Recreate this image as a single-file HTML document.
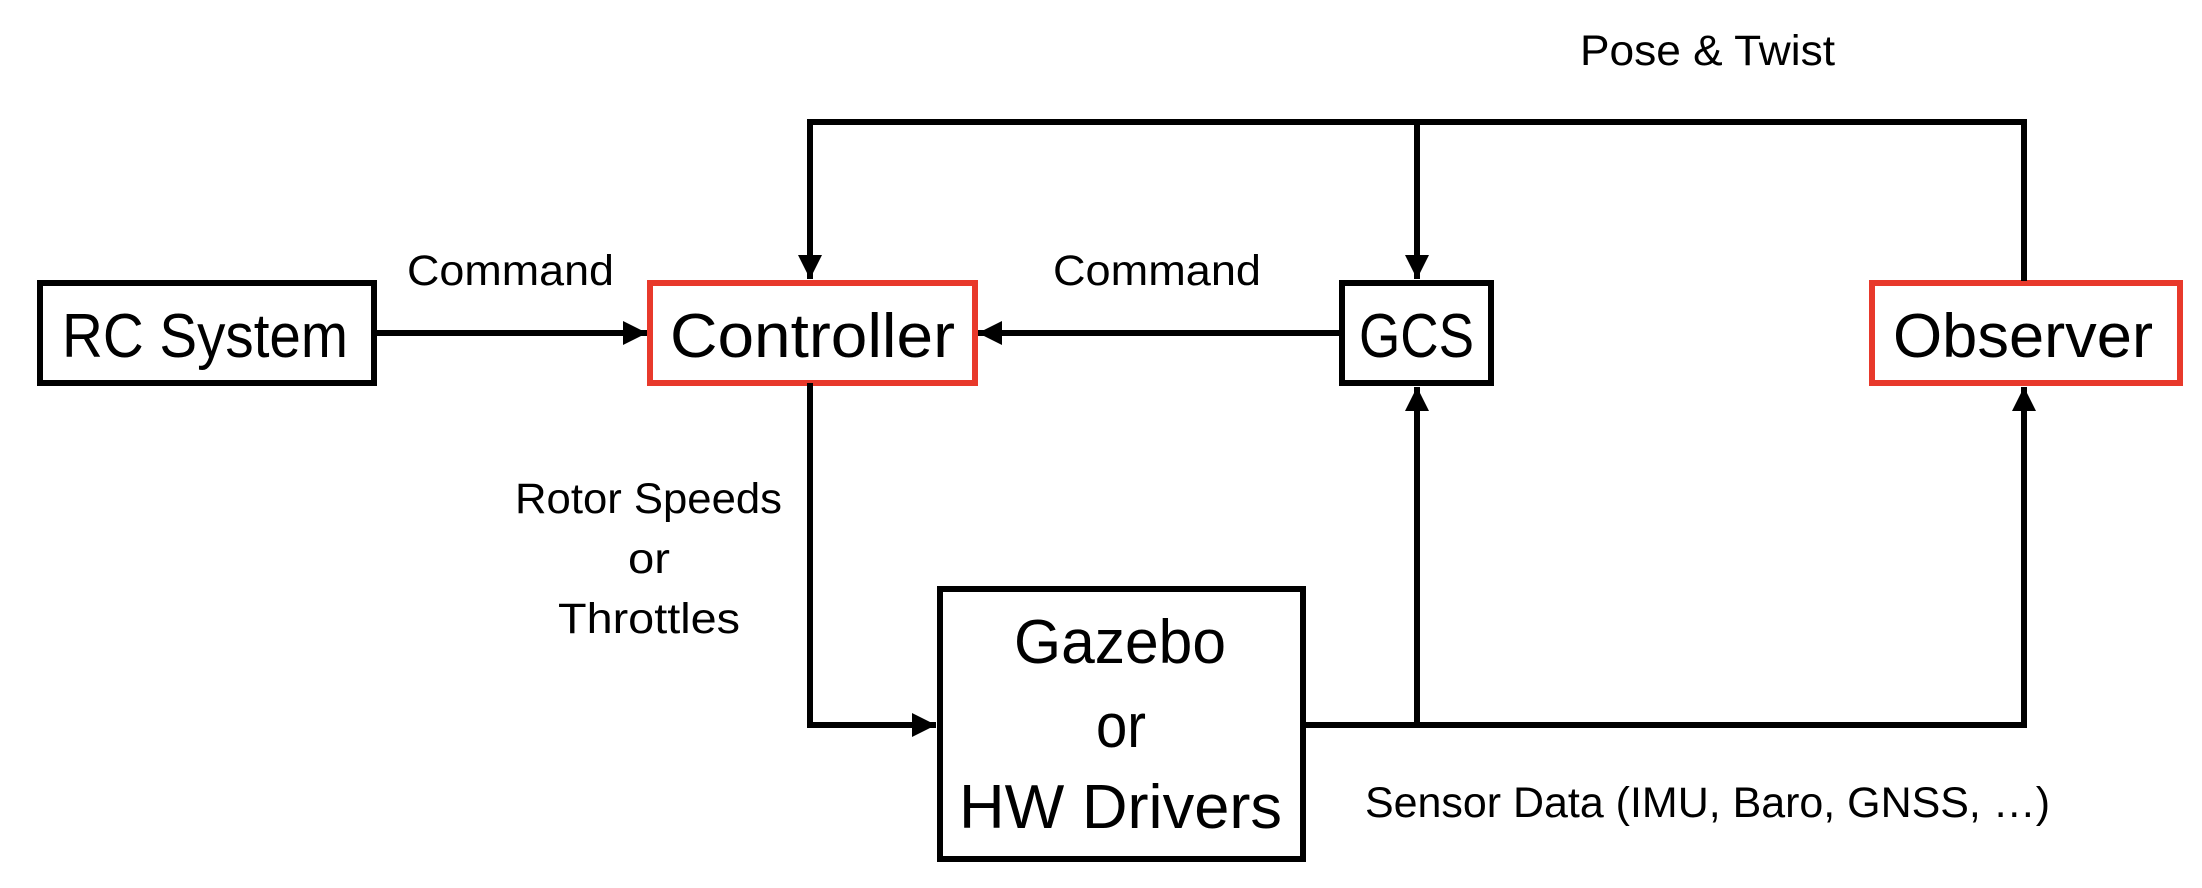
<!DOCTYPE html>
<html><head><style>html,body{margin:0;padding:0;background:#fff;}svg{display:block}</style></head><body>
<svg width="2202" height="888" viewBox="0 0 2202 888" xmlns="http://www.w3.org/2000/svg" font-family="Liberation Sans, sans-serif">
<defs>
<marker id="a" viewBox="0 0 10 10" refX="10" refY="5" markerWidth="4" markerHeight="4" orient="auto" markerUnits="strokeWidth"><path d="M0,0L10,5L0,10z" fill="#000"/></marker>
</defs>
<g fill="none" stroke-width="6">
<rect x="40" y="283" width="334" height="100" stroke="#000"/>
<rect x="650" y="283" width="325" height="100" stroke="#e8392b"/>
<rect x="1342" y="283" width="149" height="100" stroke="#000"/>
<rect x="1872" y="283" width="308" height="100" stroke="#e8392b"/>
<rect x="940" y="589" width="363" height="270" stroke="#000"/>
<g stroke="#000">
<line x1="374" y1="333" x2="647" y2="333" marker-end="url(#a)"/>
<line x1="1341" y1="333" x2="978" y2="333" marker-end="url(#a)"/>
<polyline points="2024,281 2024,122 810,122 810,279" marker-end="url(#a)"/>
<line x1="1417" y1="122" x2="1417" y2="279" marker-end="url(#a)"/>
<polyline points="810,383 810,725 936,725" marker-end="url(#a)"/>
<line x1="1303" y1="725" x2="2027" y2="725"/>
<line x1="1417" y1="725" x2="1417" y2="387" marker-end="url(#a)"/>
<line x1="2024" y1="725" x2="2024" y2="387" marker-end="url(#a)"/>
</g>
</g>
<g fill="#000">
<text x="62" y="357" font-size="62" textLength="286" lengthAdjust="spacingAndGlyphs">RC System</text>
<text x="670" y="357" font-size="62" textLength="285" lengthAdjust="spacingAndGlyphs">Controller</text>
<text x="1359" y="357" font-size="62" textLength="115" lengthAdjust="spacingAndGlyphs">GCS</text>
<text x="1893" y="357" font-size="62" textLength="260" lengthAdjust="spacingAndGlyphs">Observer</text>
<text x="1014" y="663" font-size="62" textLength="212" lengthAdjust="spacingAndGlyphs">Gazebo</text>
<text x="1096" y="747" font-size="62" textLength="50" lengthAdjust="spacingAndGlyphs">or</text>
<text x="959" y="828" font-size="62" textLength="323" lengthAdjust="spacingAndGlyphs">HW Drivers</text>
<text x="407" y="285" font-size="43" textLength="207" lengthAdjust="spacingAndGlyphs">Command</text>
<text x="1053" y="285" font-size="43" textLength="208" lengthAdjust="spacingAndGlyphs">Command</text>
<text x="1580" y="65" font-size="43" textLength="255" lengthAdjust="spacingAndGlyphs">Pose &amp; Twist</text>
<text x="515" y="513" font-size="43" textLength="267" lengthAdjust="spacingAndGlyphs">Rotor Speeds</text>
<text x="628" y="573" font-size="43" textLength="42" lengthAdjust="spacingAndGlyphs">or</text>
<text x="558" y="633" font-size="43" textLength="182" lengthAdjust="spacingAndGlyphs">Throttles</text>
<text x="1365" y="817" font-size="43" textLength="685" lengthAdjust="spacingAndGlyphs">Sensor Data (IMU, Baro, GNSS, …)</text>
</g>
</svg>
</body></html>
